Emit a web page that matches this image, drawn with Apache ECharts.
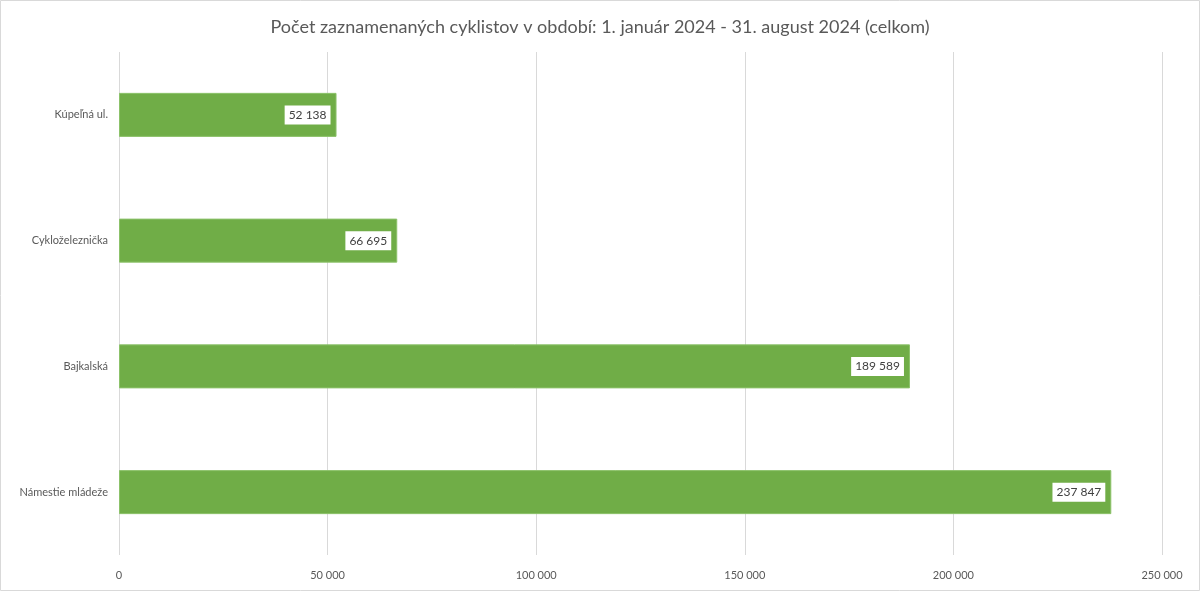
<!DOCTYPE html>
<html lang="sk">
<head>
    <meta charset="UTF-8">
    <title>Počet zaznamenaných cyklistov</title>
    <script type="text/javascript" src="https://cdn.jsdelivr.net/npm/echarts@6/dist/echarts.min.js"></script>
    <style>
        html, body { margin: 0; padding: 0; background: #fff; }
        #chart { width: 1200px; height: 591px; }
    </style>
</head>
<body>
<div id="chart"></div>

<script type="text/javascript">
    // data
    var stanice = ['Kúpeľná ul.', 'Cykloželeznička', 'Bajkalská', 'Námestie mládeže'];
    var pocty = [52138, 66695, 189589, 237847];
    var osX = [0, 50000, 100000, 150000, 200000, 250000];

    // medzera ako oddelovac tisicov
    function cislo(v) {
        return String(v).replace(/\B(?=(\d{3})+(?!\d))/g, ' ');
    }

    var myChart = echarts.init(document.getElementById('chart'));
    var font = 'Lato, "Open Sans", sans-serif';

    myChart.setOption({
        animation: false,
        textStyle: {fontFamily: font},
        graphic: [{
            type: 'rect',
            shape: {x: 0.5, y: 0.5, width: 1199, height: 590},
            style: {fill: 'none', stroke: '#d9d9d9', lineWidth: 1},
            silent: true
        }],
        title: {
            text: 'Počet zaznamenaných cyklistov v období: 1. január 2024 - 31. august 2024 (celkom)',
            left: 'center',
            top: 13,
            textStyle: {fontFamily: font, fontSize: 18, fontWeight: 'normal', color: '#595959'}
        },
        grid: {left: 119, right: 38, top: 52, bottom: 36},
        xAxis: {
            type: 'value',
            min: osX[0],
            max: osX[osX.length - 1],
            interval: osX[1] - osX[0],
            axisLine: {show: false},
            axisTick: {show: false},
            axisLabel: {
                color: '#595959', fontSize: 11, margin: 15,
                formatter: function (v) { return cislo(v); }
            },
            splitLine: {lineStyle: {color: '#d9d9d9', width: 1}}
        },
        yAxis: {
            type: 'category',
            data: stanice,
            inverse: true,
            axisLine: {show: false},
            axisTick: {show: false},
            axisLabel: {color: '#595959', fontSize: 11, margin: 11}
        },
        series: [{
            type: 'bar',
            data: pocty,
            barWidth: '35%',
            itemStyle: {color: '#70ad47', borderColor: '#8cc26a', borderWidth: 1},
            label: {
                show: true,
                position: 'insideRight',
                distance: 6,
                backgroundColor: '#ffffff',
                padding: [4, 4, 3, 4],
                color: '#404040',
                fontSize: 12,
                formatter: function (p) { return cislo(p.value); }
            }
        }]
    });
</script>
</body>
</html>
